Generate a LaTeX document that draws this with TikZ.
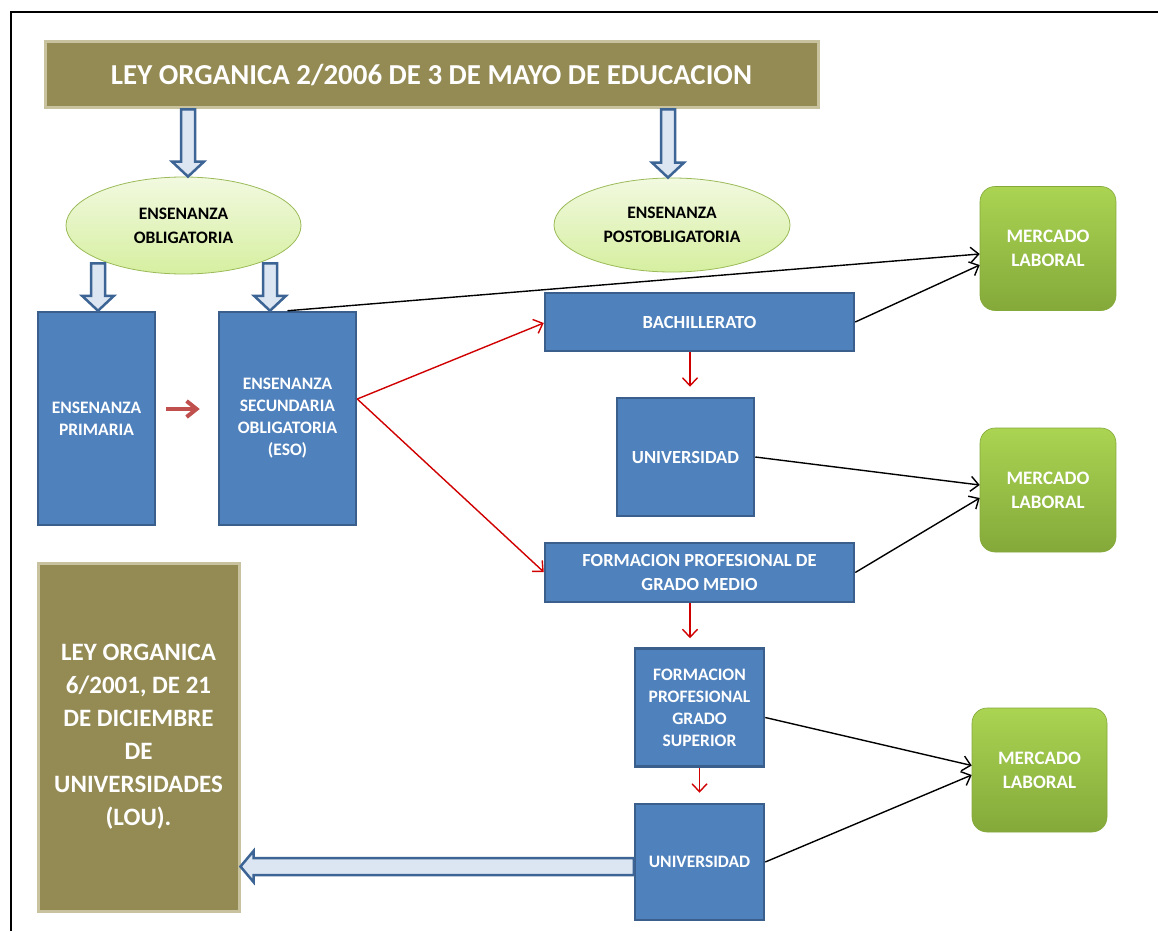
\documentclass[tikz,border=0pt]{standalone}
\usepackage{fontspec}
\setmainfont{Carlito}
\usetikzlibrary{shapes.geometric,arrows.meta,calc}
\definecolor{olivef}{HTML}{948A54}
\definecolor{olivebd}{HTML}{C9C29F}
\definecolor{bluefill}{HTML}{4F81BD}
\definecolor{bluebd}{HTML}{3A5F8C}
\definecolor{arrowfill}{HTML}{DCE6F2}
\definecolor{arrowbd}{HTML}{3C6494}
\definecolor{redarr}{HTML}{C0504D}
\definecolor{redln}{HTML}{D00000}
\definecolor{ellbd}{HTML}{9BBB59}
\definecolor{elltop}{HTML}{F2F9E0}
\definecolor{ellbot}{HTML}{D6EFA0}
\definecolor{mtop}{HTML}{AAD452}
\definecolor{mbot}{HTML}{84A93A}
\tikzset{
  law/.style={rectangle, fill=olivef, draw=olivebd, line width=3, text=white, align=center, inner sep=0},
  bbox/.style={rectangle, fill=bluefill, draw=bluebd, line width=2.5, text=white, align=center, inner sep=0,
    font=\bfseries\fontsize{17.5}{22}\selectfont},
  bigtext/.style={font=\bfseries\fontsize{18.5}{24}\selectfont},
  ell/.style={ellipse, draw=ellbd, line width=0.8, top color=elltop, bottom color=ellbot, align=center, inner sep=0,
    font=\bfseries\fontsize{17.5}{24}\selectfont},
  merc/.style={rectangle, rounded corners=15, top color=mtop, bottom color=mbot, draw=mbot, line width=0.6,
    text=white, align=center, inner sep=0, minimum width=136, minimum height=124,
    font=\bfseries\fontsize{19}{24}\selectfont},
  barrow/.style={fill=arrowfill, draw=arrowbd, line width=2.5, line join=miter},
  redthick/.style={draw=redarr, line width=4, -{Straight Barb[length=10,width=16,line width=4]}},
  redthin/.style={draw=redln, line width=1.4, -{Straight Barb[length=8,width=15,line width=1.4]}},
  blk/.style={draw=black, line width=1.4, -{Straight Barb[length=8,width=15,line width=1.4]}},
}
\newcommand\vbar[3]{%
  \draw[barrow] ($(#1,0 |- #2)+(-7,0)$) -- ($(#1,0 |- #3)+(-7,-15)$) -- ($(#1,0 |- #3)+(-16,-15)$)
   -- (#1,0 |- #3) -- ($(#1,0 |- #3)+(16,-15)$) -- ($(#1,0 |- #3)+(7,-15)$) -- ($(#1,0 |- #2)+(7,0)$) -- cycle;}
\begin{document}
\begin{tikzpicture}[x=1pt,y=-1pt]
\useasboundingbox[fill=white] (0,0) rectangle (1158,931);
\draw[line width=1.6] (11,931) -- (11,12) -- (1158,12);

% title
\node[law, minimum width=773, minimum height=66, font=\bfseries\fontsize{28.9}{34}\selectfont]
  (title) at (431.5,75) {LEY ORGANICA 2/2006 DE 3 DE MAYO DE EDUCACION};

% ellipses
\node[ell, minimum width=235, minimum height=97] (ell1) at (183.5,225.5) {ENSENANZA\\OBLIGATORIA};
\node[ell, minimum width=236, minimum height=94] (ell2) at (672,225) {ENSENANZA\\POSTOBLIGATORIA};

% blue boxes
\node[bbox, minimum width=117, minimum height=213] (prim) at (96.5,418.5) {ENSENANZA\\PRIMARIA};
\node[bbox, minimum width=137, minimum height=213] (eso) at (287.5,418.5) {ENSENANZA\\SECUNDARIA\\OBLIGATORIA\\(ESO)};
\node[bbox, bigtext, minimum width=309, minimum height=58] (bach) at (699.5,322) {BACHILLERATO};
\node[bbox, bigtext, minimum width=137, minimum height=118] (univ1) at (685.5,457) {UNIVERSIDAD};
\node[bbox, bigtext, minimum width=309, minimum height=59] (fpm) at (699.5,572.5) {FORMACION PROFESIONAL DE\\GRADO MEDIO};
\node[bbox, minimum width=129, minimum height=118] (fps) at (699.5,707.5) {FORMACION\\PROFESIONAL\\GRADO\\SUPERIOR};
\node[bbox, minimum width=129, minimum height=116] (univ2) at (699.5,862) {UNIVERSIDAD};

% mercado
\node[merc] (merc1) at (1048,248.5) {MERCADO\\LABORAL};
\node[merc] (merc2) at (1048,490) {MERCADO\\LABORAL};
\node[merc, minimum width=135] (merc3) at (1039.5,770) {MERCADO\\LABORAL};

% LOU
\node[law, minimum width=201, minimum height=348, font=\bfseries\fontsize{25}{33}\selectfont]
  (lou) at (138.5,737) {LEY ORGANICA\\6/2001, DE 21\\DE DICIEMBRE\\DE\\UNIVERSIDADES\\(LOU).};

% block arrows
\vbar{188}{title.south}{ell1.north}
\vbar{668}{title.south}{ell2.north}
\coordinate (e1b) at ($(ell1.south)+(0,-11)$);
\vbar{98}{e1b}{prim.north}
\vbar{270}{e1b}{eso.north}
\coordinate (ha) at ($(univ2.west)+(0,4.5)$);
\draw[barrow] ($(ha)+(0,-8.5)$) -- ($(ha -| lou.east)+(13,-8.5)$) -- ($(ha -| lou.east)+(13,-15.5)$)
  -- (ha -| lou.east) -- ($(ha -| lou.east)+(13,15.5)$) -- ($(ha -| lou.east)+(13,8.5)$) -- ($(ha)+(0,8.5)$) -- cycle;

% red arrows
\draw[redthick] ($(prim.east)+(10,-9.5)$) -- ($(eso.west)+(-18,-9.5)$);
\draw[redthin] ($(eso.east)+(0,-19.5)$) -- ($(bach.west)+(0,1)$);
\draw[redthin] ($(eso.east)+(0,-19.5)$) -- ($(fpm.west)+(0,-0.5)$);
\draw[redthin] ($(bach.south)+(-9.5,0)$) -- ($(univ1.north)+(4.5,-10)$);
\draw[redthin] ($(fpm.south)+(-9.5,0)$) -- ($(fps.north)+(-9.5,-9)$);
\draw[redthin] (fps.south) -- ($(univ2.north)+(0,-10)$);

% black arrows
\draw[blk] (eso.north) -- ($(merc1.west)+(0,5.5)$);
\draw[blk] (bach.east) -- ($(merc1.west)+(0,16.5)$);
\draw[blk] (univ1.east) -- ($(merc2.west)+(0,-5)$);
\draw[blk] (fpm.east) -- ($(merc2.west)+(0,8)$);
\draw[blk] ($(fps.east)+(0,10)$) -- ($(merc3.west)+(0,-4.5)$);
\draw[blk] (univ2.east) -- ($(merc3.west)+(0,5)$);
\end{tikzpicture}
\end{document}
